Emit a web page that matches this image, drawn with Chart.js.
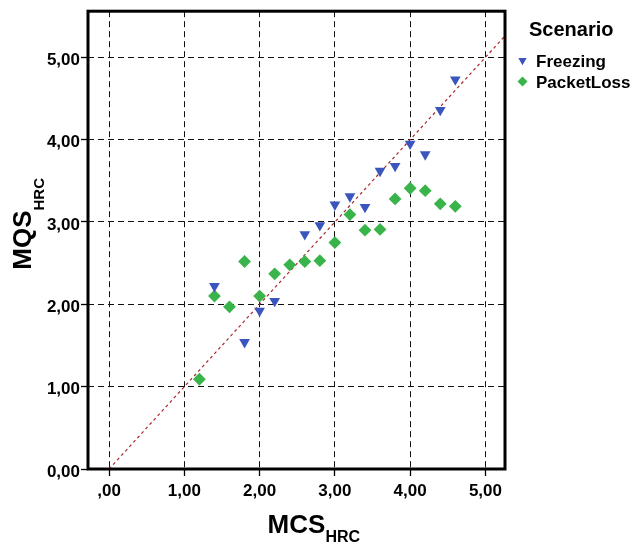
<!DOCTYPE html>
<html>
<head>
<meta charset="utf-8">
<script src="https://cdn.jsdelivr.net/npm/chart.js@4"></script>
<style>
  html, body { margin: 0; padding: 0; background: #fff; }
  #wrap { width: 632px; height: 545px; }
</style>
</head>
<body>
<div id="wrap"><canvas id="scatterChart" width="632" height="545"></canvas></div>
<script>
'use strict';

// Scenario: Freezing
const freezeX = [1.4, 1.8, 2.0, 2.2, 2.6, 2.8, 3.0, 3.2, 3.4, 3.6, 3.8, 4.0, 4.2, 4.4, 4.6];
const freezeY = [2.22, 1.54, 1.92, 2.04, 2.85, 2.96, 3.21, 3.31, 3.18, 3.62, 3.68, 3.95, 3.82, 4.36, 4.73];

// Scenario: PacketLoss
const lossX = [1.2, 1.4, 1.6, 1.8, 2.0, 2.2, 2.4, 2.6, 2.8, 3.0, 3.2, 3.4, 3.6, 3.8, 4.0, 4.2, 4.4, 4.6];
const lossY = [1.09, 2.10, 1.97, 2.52, 2.10, 2.37, 2.48, 2.52, 2.53, 2.75, 3.09, 2.90, 2.91, 3.28, 3.41, 3.38, 3.22, 3.19];

// y = x reference line
const refX = [0, 6];
const refY = [0, 6];

const tickValues = [0, 1, 2, 3, 4, 5];
const xTickLabels = [',00', '1,00', '2,00', '3,00', '4,00', '5,00'];
const yTickLabels = ['0,00', '1,00', '2,00', '3,00', '4,00', '5,00'];

const seriesNames = ['Freezing', 'PacketLoss'];
const legendTitle = 'Scenario';

const FONT = "'Liberation Sans', Arial, Helvetica, sans-serif";
const BLUE = '#3a55bd';
const GREEN = '#38b44a';

const toPoints = (xs, ys) => xs.map((x, i) => ({ x: x, y: ys[i] }));

// frame, axis titles with subscripts and the legend
const decorations = {
  id: 'decorations',
  afterDraw(chart) {
    const ctx = chart.ctx;
    const a = chart.chartArea;
    ctx.save();

    // thick frame
    ctx.strokeStyle = '#000';
    ctx.lineWidth = 3;
    ctx.setLineDash([]);
    ctx.strokeRect(a.left, a.top, a.right - a.left, a.bottom - a.top);

    ctx.fillStyle = '#000';
    ctx.textBaseline = 'alphabetic';
    ctx.textAlign = 'left';

    // x title
    ctx.font = 'bold 26px ' + FONT;
    let w = ctx.measureText('MCS').width;
    const cx = (a.left + a.right) / 2;
    ctx.fillText('MCS', cx - w / 2, 533);
    ctx.font = 'bold 16px ' + FONT;
    ctx.fillText('HRC', cx + w / 2, 542);

    // y title
    const cy = (a.top + a.bottom) / 2;
    ctx.save();
    ctx.translate(31, cy);
    ctx.rotate(-Math.PI / 2);
    ctx.font = 'bold 26px ' + FONT;
    w = ctx.measureText('MQS').width;
    ctx.fillText('MQS', -w / 2, 0);
    ctx.font = 'bold 15px ' + FONT;
    ctx.fillText('HRC', w / 2, 13);
    ctx.restore();

    // legend
    ctx.font = 'bold 20px ' + FONT;
    ctx.fillText(legendTitle, 529, 36);
    ctx.font = 'bold 17px ' + FONT;
    const rows = [67, 88];
    chart.data.datasets.slice(0, 2).forEach((ds, i) => {
      ctx.fillStyle = ds.backgroundColor;
      Chart.helpers.drawPoint(ctx, {
        pointStyle: ds.pointStyle,
        rotation: ds.pointRotation || 0,
        radius: ds.pointStyle === 'triangle' ? 4.8 : 5,
        borderWidth: 0
      }, 522.5, rows[i] - 6.5);
      ctx.fillStyle = '#000';
      ctx.fillText(ds.label, 536, rows[i]);
    });

    ctx.restore();
  }
};

const ctx = document.getElementById('scatterChart').getContext('2d');
const chart = new Chart(ctx, {
  type: 'scatter',
  data: {
    datasets: [{
      label: seriesNames[0],
      data: toPoints(freezeX, freezeY),
      pointStyle: 'triangle',
      pointRotation: 180,
      pointRadius: 6.2,
      pointBorderWidth: 0,
      backgroundColor: BLUE,
      borderColor: BLUE
    }, {
      label: seriesNames[1],
      data: toPoints(lossX, lossY),
      pointStyle: 'rectRot',
      pointRadius: 6.4,
      pointBorderWidth: 0,
      backgroundColor: GREEN,
      borderColor: GREEN
    }, {
      type: 'line',
      label: 'ref',
      data: toPoints(refX, refY),
      borderColor: '#a8282c',
      borderWidth: 1.2,
      borderDash: [3, 3],
      pointRadius: 0,
      fill: false
    }]
  },
  options: {
    responsive: false,
    animation: false,
    devicePixelRatio: 1,
    layout: {
      padding: { left: 0, top: 11, right: 127, bottom: 0 }
    },
    plugins: {
      legend: { display: false },
      tooltip: { enabled: false }
    },
    scales: {
      x: {
        type: 'linear',
        min: -0.28,
        max: 5.26,
        afterBuildTicks: s => { s.ticks = tickValues.map(v => ({ value: v })); },
        afterFit: s => { s.height = 545 - 469; },
        grid: {
          color: '#111',
          lineWidth: 1,
          drawTicks: true,
          tickLength: 7,
          tickColor: '#000',
          tickWidth: 1.3
        },
        border: { display: false, dash: [6, 4] },
        ticks: {
          color: '#000',
          font: { family: FONT, size: 17, weight: 'bold' },
          padding: 5,
          maxRotation: 0,
          callback: (v, i) => xTickLabels[i]
        }
      },
      y: {
        type: 'linear',
        min: 0,
        max: 5.56,
        afterBuildTicks: s => { s.ticks = tickValues.map(v => ({ value: v })); },
        afterFit: s => { s.width = 88; },
        grid: {
          color: '#111',
          lineWidth: 1,
          drawTicks: true,
          tickLength: 7,
          tickColor: '#000',
          tickWidth: 1.3
        },
        border: { display: false, dash: [6, 4] },
        ticks: {
          color: '#000',
          font: { family: FONT, size: 17, weight: 'bold' },
          padding: 1,
          labelOffset: 3,
          callback: (v, i) => yTickLabels[i]
        }
      }
    }
  },
  plugins: [decorations]
});
</script>
</body>
</html>
